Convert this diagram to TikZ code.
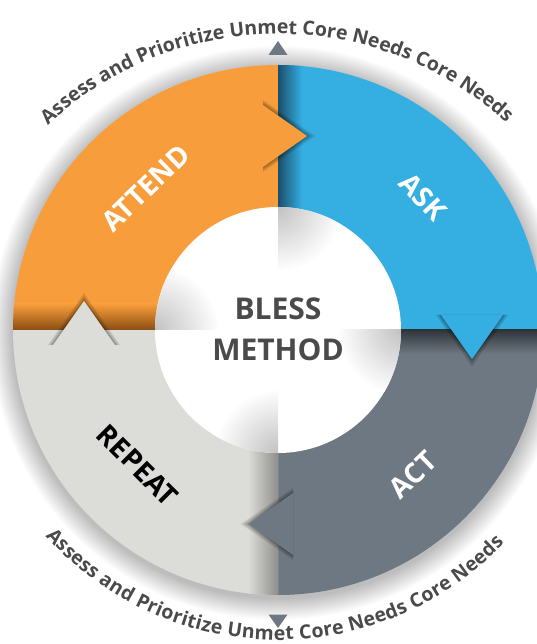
\documentclass[tikz,border=0pt]{standalone}
\usepackage{fontspec}
\setmainfont{Open Sans}
\usetikzlibrary{decorations.text}
\definecolor{orC}{HTML}{F89D3B}
\definecolor{orD}{HTML}{8A4E14}
\definecolor{blC}{HTML}{35AEE2}
\definecolor{blD}{HTML}{1A4F6A}
\definecolor{acC}{HTML}{6E7882}
\definecolor{acD}{HTML}{30353A}
\definecolor{lgC}{HTML}{DCDDD8}
\definecolor{lgD}{HTML}{8E8F8B}
\definecolor{txC}{HTML}{4A4A4A}
\newcommand{\arrowtip}[2]{%
  \begin{scope}[rotate=#1]
    \foreach \k in {5,3.5,2,1}{
      \fill[black,opacity=.1] (-15,225+\k) -- (29+1.6*\k,194) -- (-15,163-\k) -- cycle;}
    \fill[#2] (-15,225) -- (29,194) -- (-15,163) -- cycle;
  \end{scope}}
\newcommand{\hubshade}[1]{%
  \begin{scope}[rotate=#1]
    \clip (0,0) circle (123);
    \clip (0,0) rectangle (130,130);
    \shade[inner color=black!24, outer color=white] (0,123) circle (64);
  \end{scope}}
\begin{document}
\begin{tikzpicture}[x=1pt,y=1pt,
  lab/.style={font=\fontsize{28}{28}\selectfont\bfseries, text=white, inner sep=0pt},
  ctr/.style={font=\fontsize{30}{41}\selectfont\bfseries, text=txC, align=center, inner sep=0pt},
  tri/.style={fill=acC},
  arctext/.style={decorate, decoration={text along path,
      text={|\bfseries\fontsize{19.5}{20}\selectfont|Assess and Prioritize Unmet Core Needs Core Needs},
      text color=txC, text align={fit to path}}}
]
\useasboundingbox (-278,-314) rectangle (258,330);
\fill[white] (-278,-314) rectangle (258,330);
% halo
\foreach \r in {266,...,287} \fill[black, opacity=0.010] (0,-3) circle (\r);
% sectors
\fill[orC] (0,0) -- (90:265) arc[start angle=90,end angle=180,radius=265] -- cycle;
\fill[blC] (0,0) -- (0:265) arc[start angle=0,end angle=90,radius=265] -- cycle;
\fill[acC] (0,0) -- (270:265) arc[start angle=270,end angle=360,radius=265] -- cycle;
\fill[lgC] (0,0) -- (180:265) arc[start angle=180,end angle=270,radius=265] -- cycle;
% shadows along the divides
\begin{scope}
  \clip (0,0) circle (265);
  \shade[left color=blD, right color=blC] (0,110) rectangle (24,270);
  \shade[top color=acD, bottom color=acC] (110,0) rectangle (270,-24);
  \shade[left color=lgC, right color=lgD] (-30,-110) rectangle (0,-270);
  \shade[top color=orC, bottom color=orD] (-270,26) rectangle (-110,0);
\end{scope}
% arrowheads
\arrowtip{0}{orC}
\arrowtip{-90}{blC}
\arrowtip{-180}{acC}
\arrowtip{-270}{lgC}
% hub
\fill[white] (0,0) circle (123);
\hubshade{0}
\hubshade{-90}
\hubshade{-180}
\hubshade{-270}
\node[ctr] (bless) at (0,1) {BLESS\\METHOD};
% labels
\node[lab, rotate=44] (attend) at (133:194) {ATTEND};
\node[lab, rotate=-47] (ask) at (42.5:197) {ASK};
\node[lab, rotate=44] (act) at (-47:198) {ACT};
\node[lab, text=black, rotate=-45] (repeat) at (224:195) {REPEAT};
% small triangles
\fill[tri] (-9.5,275) -- (9.5,275) -- (0,289) -- cycle;
\fill[tri] (-9.5,-284.5) -- (9.5,-284.5) -- (0,-298) -- cycle;
% arc texts
\path[arctext] (0,-40) ++(133.2:336) arc[start angle=133.2, end angle=48, radius=336];
\path[arctext] (0,2) ++(221.8:312) arc[start angle=221.8, end angle=316.5, radius=312];
\end{tikzpicture}
\end{document}
